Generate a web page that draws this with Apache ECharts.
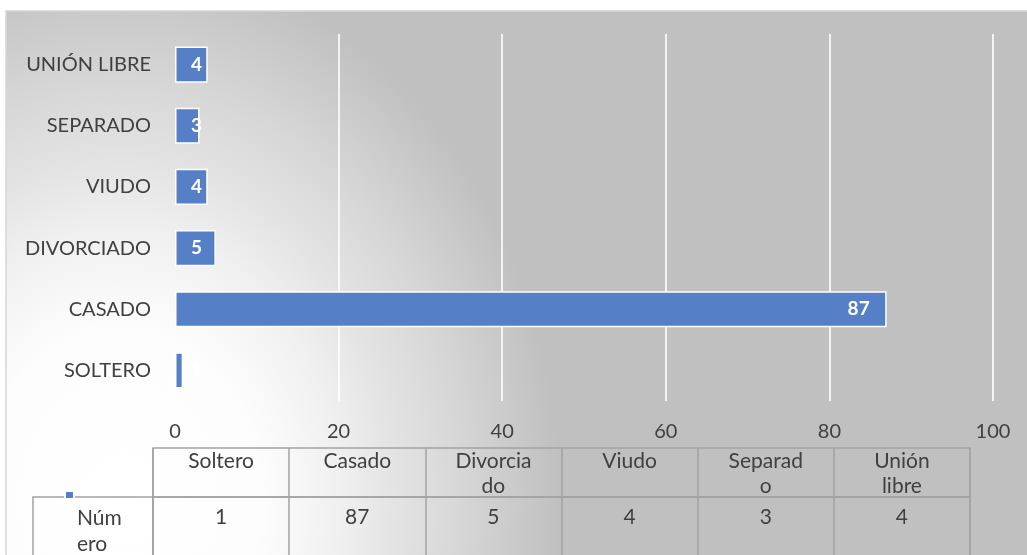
<!DOCTYPE html>
<html>
<head>
<meta charset="utf-8">
<script src="https://cdn.jsdelivr.net/npm/echarts@6/dist/echarts.min.js"></script>
<style>
  html, body { margin: 0; padding: 0; background: #fff; }
  #main { width: 1027px; height: 555px; }
</style>
</head>
<body>
<div id="main"></div>
<script>
var categories = ['SOLTERO', 'CASADO', 'DIVORCIADO', 'VIUDO', 'SEPARADO', 'UNIÓN LIBRE'];
var values = [1, 87, 5, 4, 3, 4];
var tableHeaders = ['Soltero', 'Casado', 'Divorcia\ndo', 'Viudo', 'Separad\no', 'Unión\nlibre'];
var seriesName = 'Número';
var rowLabel = ['Núm\nero'];
var axisMin = 0, axisMax = 100, axisStep = 20;

var font = 'Lato';
var textColor = '#404040';
var lineColor = '#a3a3a3';
var barColor = '#5580c8';

var myChart = echarts.init(document.getElementById('main'));

// etiquetas pequeñas quedan fuera de la barra, como en Excel
var barData = values.map(function (v) {
    if (v < 10) {
        return { value: v, label: { position: 'insideLeft', distance: 16 } };
    }
    return v;
});

var tableRow = values.map(function (v) { return String(v); });

// fondo: degradado elíptico, claro abajo a la izquierda
var sx = 440 / 540;
option = {
    backgroundColor: '#fff',
    animation: false,
    textStyle: { fontFamily: font },
    graphic: [
        {
            type: 'rect',
            z: -10,
            silent: true,
            x: 6,
            y: 11,
            scaleX: sx,
            shape: { x: 0, y: 0, width: 1030 / sx, height: 560 },
            style: {
                fill: {
                    type: 'radial',
                    global: true,
                    x: (120 - 6) / sx, y: 489, r: 540,
                    colorStops: [
                        { offset: 0, color: '#ffffff' },
                        { offset: 0.32, color: '#fdfdfd' },
                        { offset: 0.5, color: '#f0f0f0' },
                        { offset: 0.62, color: '#e4e4e4' },
                        { offset: 0.76, color: '#d8d8d8' },
                        { offset: 0.88, color: '#cccccc' },
                        { offset: 1, color: '#c0c0c0' }
                    ]
                }
            }
        },
        {
            type: 'rect',
            z: -9,
            silent: true,
            shape: { x: 6, y: 11, width: 1030, height: 560 },
            style: { fill: 'none', stroke: '#d6d6d6', lineWidth: 1.5 }
        }
    ],
    legend: {
        left: 64,
        top: 490,
        padding: 0,
        itemWidth: 9,
        itemHeight: 8,
        icon: 'rect',
        selectedMode: false,
        formatter: function () { return ''; },
        data: [seriesName]
    },
    grid: [
        { left: 175, right: 34, top: 34, bottom: 154, outerBoundsMode: 'none' },
        { left: 153, right: 57, top: 448, height: 49, show: true, borderColor: lineColor, borderWidth: 1.5, backgroundColor: 'transparent', outerBoundsMode: 'none' },
        { left: 153, right: 57, top: 497, height: 80, show: true, borderColor: lineColor, borderWidth: 1.5, backgroundColor: 'transparent', outerBoundsMode: 'none' },
        { left: 33, width: 120, top: 497, height: 68, show: true, borderColor: lineColor, borderWidth: 1.5, backgroundColor: 'transparent', outerBoundsMode: 'none' }
    ],
    xAxis: [
        {
            gridIndex: 0,
            type: 'value',
            min: axisMin,
            max: axisMax,
            interval: axisStep,
            axisLine: { show: false },
            axisTick: { show: false },
            axisLabel: { color: textColor, fontSize: 20, margin: 21 },
            splitLine: {
                show: true,
                showMinLine: false,
                lineStyle: { color: 'rgba(255,255,255,0.8)', width: 2 }
            }
        },
        {
            gridIndex: 1,
            type: 'category',
            position: 'top',
            data: tableHeaders,
            axisLine: { show: false },
            axisTick: { show: false },
            axisLabel: { inside: true, margin: 1, verticalAlign: 'top', color: textColor, fontSize: 21, lineHeight: 25, interval: 0 },
            splitLine: { show: true, lineStyle: { color: lineColor, width: 1.5 } }
        },
        {
            gridIndex: 2,
            type: 'category',
            position: 'top',
            data: tableRow,
            axisLine: { show: false },
            axisTick: { show: false },
            axisLabel: { inside: true, margin: 8, verticalAlign: 'top', color: textColor, fontSize: 21, lineHeight: 25, interval: 0 },
            splitLine: { show: true, lineStyle: { color: lineColor, width: 1.5 } }
        },
        { gridIndex: 3, type: 'value', show: false }
    ],
    yAxis: [
        {
            gridIndex: 0,
            type: 'category',
            data: categories,
            axisLine: { show: false },
            axisTick: { show: false },
            axisLabel: { color: textColor, fontSize: 20, margin: 24 }
        },
        { gridIndex: 1, type: 'value', show: false },
        { gridIndex: 2, type: 'value', show: false },
        {
            gridIndex: 3,
            type: 'category',
            data: rowLabel,
            axisLine: { show: false },
            axisTick: { show: false },
            axisLabel: { inside: true, margin: 44, align: 'left', color: textColor, fontSize: 21, lineHeight: 26 }
        }
    ],
    series: [
        {
            name: seriesName,
            type: 'bar',
            xAxisIndex: 0,
            yAxisIndex: 0,
            barCategoryGap: '41%',
            itemStyle: {
                color: barColor,
                borderColor: '#ffffff',
                borderWidth: 1.5
            },
            label: {
                show: true,
                position: 'insideRight',
                distance: 17,
                color: '#ffffff',
                fontWeight: 'bold',
                fontSize: 19
            },
            data: barData
        }
    ]
};

myChart.setOption(option);
</script>
</body>
</html>
